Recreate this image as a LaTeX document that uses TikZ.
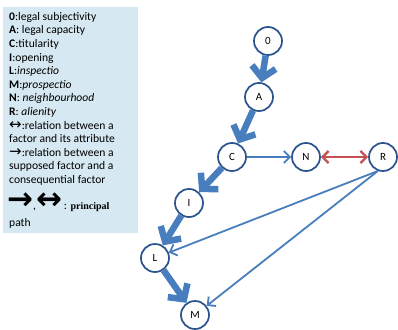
\documentclass[tikz,border=0pt]{standalone}
\usepackage{fontspec}
\setmainfont{Carlito}
\newfontfamily\arrowfont{DejaVu Sans}
\newfontfamily\keyfont{Liberation Serif}
\usetikzlibrary{arrows.meta}

\definecolor{legendblue}{RGB}{214,232,241}
\definecolor{nodeline}{RGB}{42,82,140}
\definecolor{pathblue}{RGB}{72,126,190}
\definecolor{relred}{RGB}{196,82,82}

\tikzset{
  factor/.style={circle, draw=nodeline, line width=1.7pt, fill=white,
    minimum size=28pt, inner sep=0pt, font=\fontsize{11}{13}\selectfont},
  principal/.style={draw=pathblue, line width=6.5pt,
    -{Straight Barb[length=11pt,width=24pt]}},
  relation/.style={draw=pathblue, line width=1.8pt,
    -{Straight Barb[length=6pt,width=12pt]}},
  attribute/.style={draw=relred, line width=2.4pt,
    {Straight Barb[length=6pt,width=12pt]}-{Straight Barb[length=6pt,width=12pt]}},
  keyline/.style={anchor=base west, inner sep=0pt},
}
\newcommand{\legarrow}[1]{{\arrowfont\fontsize{15}{13}\selectfont #1}}
\newcommand{\bigarrow}[1]{{\arrowfont\bfseries\fontsize{31}{13}\selectfont #1}}

\begin{document}
\begin{tikzpicture}[x=1pt,y=-1pt]
\useasboundingbox (0,0) rectangle (398,329);

% Legend
\fill[legendblue] (3,7) rectangle (138,233);
\node[anchor=north west, inner sep=0pt, align=left,
  font=\fontsize{11.6}{13.6}\selectfont] (legend) at (9,12) {%
  {\bfseries 0}:legal subjectivity\\
  {\bfseries A}: legal capacity\\
  {\bfseries C}:titularity\\
  {\bfseries I}:opening\\
  {\bfseries L}:\textit{inspectio}\\
  {\bfseries M}:\textit{prospectio}\\
  {\bfseries N}: \textit{neighbourhood}\\
  {\bfseries R}: \textit{alienity}\\
  \legarrow{↔}:relation between a\\
  factor and its attribute\\
  \legarrow{→}:relation between a\\
  supposed factor and a\\
  consequential factor};
\node[keyline, font=\fontsize{11.6}{13.6}\selectfont] (key) at (7,209)
  {\bigarrow{→},\bigarrow{↔}\,: {\keyfont\bfseries\fontsize{10}{12}\selectfont principal}};
\node[keyline, font=\fontsize{11.6}{13.6}\selectfont] (path) at (9,226) {path};

% Factors
\node[factor] (o) at (268,41) {0};
\node[factor] (a) at (259,97) {A};
\node[factor] (c) at (232,157) {C};
\node[factor] (n) at (306,157) {N};
\node[factor] (r) at (383,157) {R};
\node[factor] (i) at (189,203) {I};
\node[factor] (l) at (155,258) {L};
\node[factor] (m) at (195,315) {M};

% Principal path
\draw[principal] (o) -- (a);
\draw[principal] (a) -- (c);
\draw[principal] (c) -- (i);
\draw[principal] (i) -- (l);
\draw[principal] (l) -- (m);

% Other relations
\draw[relation] (c) -- (n);
\draw[attribute] (n) -- (r);
\draw[relation] (r.250) -- (l);
\draw[relation] (r.250) -- (m);

\end{tikzpicture}
\end{document}
